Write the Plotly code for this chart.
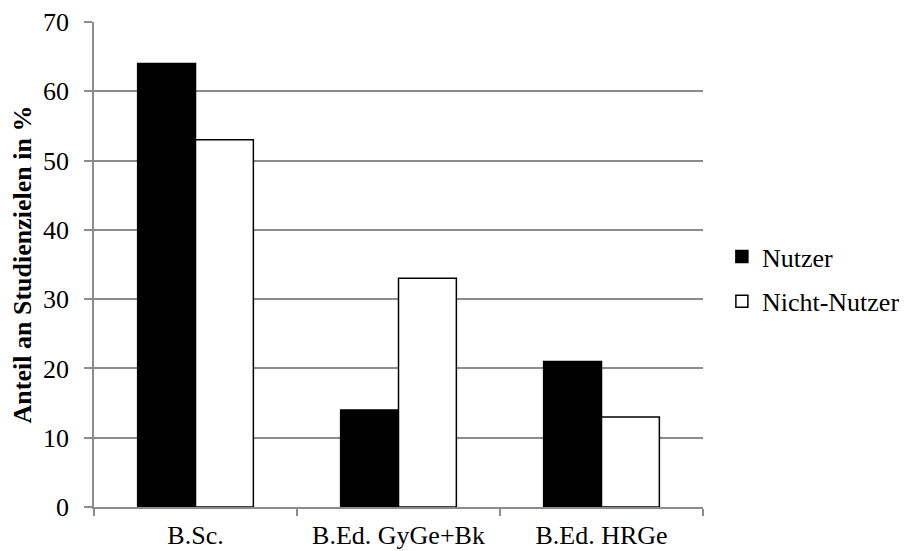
import plotly.graph_objects as go

categories = ["B.Sc.", "B.Ed. GyGe+Bk", "B.Ed. HRGe"]
nutzer = [64, 14, 21]
nicht_nutzer = [53, 33, 13]
y_ticks = [0, 10, 20, 30, 40, 50, 60, 70]

FONT = "Liberation Serif"
GRAY = "#8c8c8c"

fig = go.Figure()
fig.add_trace(go.Bar(name="Nutzer", x=categories, y=nutzer, legendgroup="a",
                     marker=dict(color="black", line=dict(color="black", width=1.5))))
fig.add_trace(go.Bar(name="Nicht-Nutzer", x=categories, y=nicht_nutzer, legendgroup="b",
                     marker=dict(color="white", line=dict(color="black", width=1.5))))

# page has an 8px body margin, so the figure is sized/offset to compensate
fig.update_layout(
    width=899, height=543,
    margin=dict(l=86, r=204, t=14, b=44, autoexpand=False),
    paper_bgcolor="white", plot_bgcolor="white",
    barmode="group", bargap=0.43, bargroupgap=0,
    font=dict(family=FONT, size=26, color="black"),
    legend=dict(x=1.031, y=0.47, yanchor="middle", xanchor="left",
                font=dict(family=FONT, size=26), tracegroupgap=8, traceorder="grouped"),
    showlegend=True,
)
fig.update_xaxes(type="category", showline=True, linecolor=GRAY, linewidth=1.5,
                 ticks="outside", tickson="boundaries", ticklen=7, tickcolor=GRAY,
                 tickwidth=1.5, showgrid=False, ticklabelstandoff=4,
                 tickfont=dict(family=FONT, size=26))
fig.update_yaxes(range=[0, 70], tickvals=y_ticks, showline=True, linecolor=GRAY,
                 linewidth=1.5, ticks="outside", ticklen=8, tickcolor=GRAY,
                 tickwidth=1.5, showgrid=True, gridcolor=GRAY, gridwidth=1.5,
                 zeroline=False, ticklabelstandoff=10, tickfont=dict(family=FONT, size=26),
                 title=dict(text="<b>Anteil an Studienzielen in %</b>",
                            font=dict(family=FONT, size=26), standoff=14))

fig.write_html("out.html")
